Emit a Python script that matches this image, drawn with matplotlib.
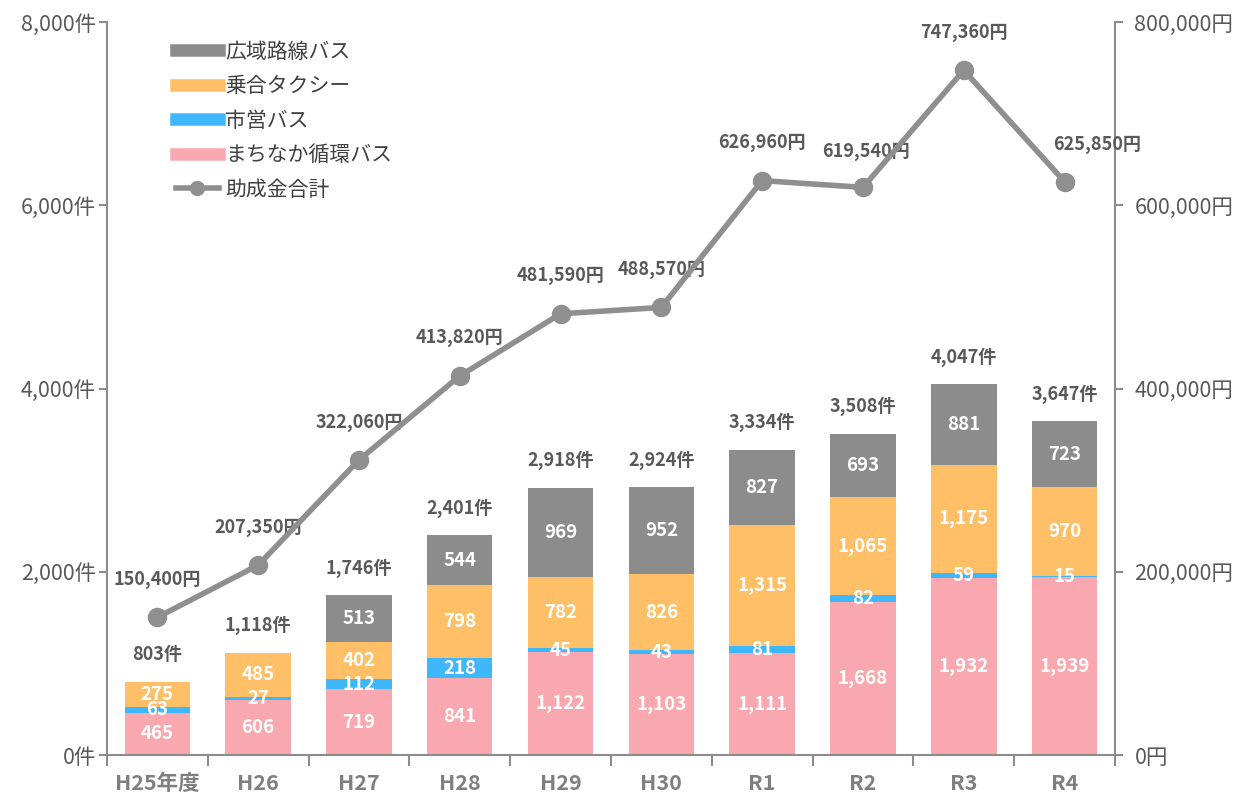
import matplotlib
matplotlib.use("Agg")
import matplotlib.pyplot as plt
import numpy as np
from matplotlib.lines import Line2D

plt.rcParams['font.family'] = ['Noto Sans CJK JP', 'DejaVu Sans']

categories = ["H25年度", "H26", "H27", "H28", "H29", "H30", "R1", "R2", "R3", "R4"]
machinaka = [465, 606, 719, 841, 1122, 1103, 1111, 1668, 1932, 1939]
shiei = [63, 27, 112, 218, 45, 43, 81, 82, 59, 15]
noriai = [275, 485, 402, 798, 782, 826, 1315, 1065, 1175, 970]
koiki = [0, 0, 513, 544, 969, 952, 827, 693, 881, 723]
totals = [803, 1118, 1746, 2401, 2918, 2924, 3334, 3508, 4047, 3647]
josei = [150400, 207350, 322060, 413820, 481590, 488570, 626960, 619540, 747360, 625850]

c_pink = "#F8A8AE"
c_blue = "#3FB7FC"
c_orange = "#FFBF66"
c_gray = "#8C8C8C"
c_line = "#8F8F8F"
c_text = "#595959"

fig = plt.figure(figsize=(12.43, 8.0), dpi=100)
ax = fig.add_axes([0.086, 0.056, 0.811, 0.9165])
ax2 = ax.twinx()

x = np.arange(len(categories))
w = 0.65
series = [(machinaka, c_pink, "まちなか循環バス"),
          (shiei, c_blue, "市営バス"),
          (noriai, c_orange, "乗合タクシー"),
          (koiki, c_gray, "広域路線バス")]
bottom = np.zeros(len(categories))
for vals, col, name in series:
    v = np.array(vals, dtype=float)
    ax.bar(x, v, w, bottom=bottom, color=col, edgecolor='none', zorder=2)
    for i in range(len(x)):
        if v[i] > 0:
            ax.text(x[i], bottom[i] + v[i] / 2, f"{int(v[i]):,}", ha='center', va='center',
                    color='white', fontsize=13.5, fontweight='bold', zorder=3)
    bottom += v

for i in range(len(x)):
    ax.annotate(f"{totals[i]:,}件", (x[i], totals[i]), xytext=(0, 27), textcoords='offset pixels',
                ha='center', va='center', color=c_text, fontsize=13, fontweight='bold')

ax2.plot(x, josei, color=c_line, lw=4, marker='o', ms=13, zorder=4)
offsets = [(0, 38)] * len(x)
offsets = list(offsets)
offsets[7] = (3, 36)
offsets[9] = (32, 37)
for i in range(len(x)):
    ax2.annotate(f"{josei[i]:,}円", (x[i], josei[i]), xytext=offsets[i], textcoords='offset pixels',
                 ha='center', va='center', color=c_text, fontsize=13, fontweight='bold')

ax.set_xlim(-0.5, len(x) - 0.5)
ax.set_ylim(0, 8000)
ax2.set_ylim(0, 800000)
ax.set_yticks(np.arange(0, 8001, 2000))
ax.set_yticklabels([f"{v:,}件" for v in range(0, 8001, 2000)])
ax2.set_yticks(np.arange(0, 800001, 200000))
ax2.set_yticklabels([f"{v:,}円" for v in range(0, 800001, 200000)])

ax.set_xticks(x)
ax.set_xticklabels(categories, fontsize=15.5, fontweight='bold', color="#7F7F7F")
ax.tick_params(axis='x', length=0, pad=13)
ax.set_xticks(np.arange(-0.5, len(x), 1), minor=True)
ax.tick_params(axis='x', which='minor', length=8, width=1.5, color="#8C8C8C")

for a in (ax, ax2):
    for s in a.spines.values():
        s.set_visible(False)
ax.spines['left'].set_visible(True)
ax.spines['bottom'].set_visible(True)
ax2.spines['right'].set_visible(True)
for s in (ax.spines['left'], ax.spines['bottom'], ax2.spines['right']):
    s.set_color("#8C8C8C")
    s.set_linewidth(1.5)
ax.tick_params(axis='y', length=6, width=1.5, color="#8C8C8C", labelsize=15.5, labelcolor=c_text, pad=2)
ax2.tick_params(axis='y', length=6, width=1.5, color="#8C8C8C", labelsize=15.5, labelcolor=c_text, pad=8)

handles = [Line2D([0], [0], color=c_gray, lw=9),
           Line2D([0], [0], color=c_orange, lw=9),
           Line2D([0], [0], color=c_blue, lw=9),
           Line2D([0], [0], color=c_pink, lw=9),
           Line2D([0], [0], color=c_line, lw=4, marker='o', ms=10)]
labels = ["広域路線バス", "乗合タクシー", "市営バス", "まちなか循環バス", "助成金合計"]
leg = ax.legend(handles, labels, loc='upper left', bbox_to_anchor=(0.05, 1.0), frameon=False,
                fontsize=15, handlelength=2.05, handletextpad=0.3, labelspacing=0.6)
for t in leg.get_texts():
    t.set_color("#404040")

fig.savefig("out.png", dpi=100)
